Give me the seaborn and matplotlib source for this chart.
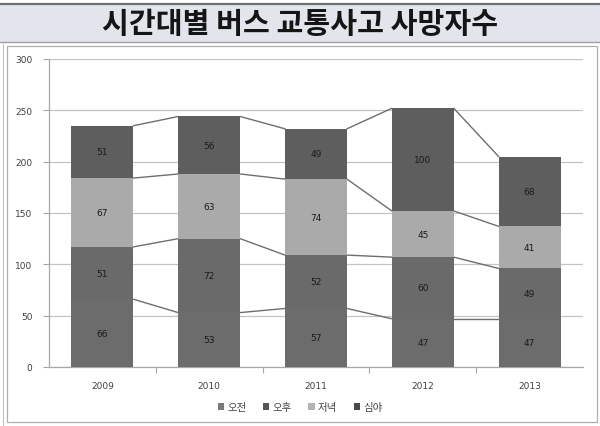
import matplotlib
matplotlib.use("Agg")
import matplotlib.pyplot as plt
from matplotlib.patches import Rectangle, Patch
from matplotlib.lines import Line2D
import seaborn as sns
import pandas as pd
import numpy as np

# Bus accident fatalities by time of day
years = ["2009", "2010", "2011", "2012", "2013"]
series_names = ["오전", "오후", "저녁", "심야"]
morning = [66, 53, 57, 47, 47]
afternoon = [51, 72, 52, 60, 49]
evening = [67, 63, 74, 45, 41]
night = [51, 56, 49, 100, 68]
y_ticks = [0, 50, 100, 150, 200, 250, 300]

colors = ["#6c6c6c", "#6a6a6a", "#aaaaaa", "#5e5e5e"]
legend_colors = ["#7a7a7a", "#555555", "#b4b4b4", "#4a4a4a"]

sns.set_theme(style="white")
plt.rcParams["font.family"] = ["Noto Sans CJK KR", "DejaVu Sans"]

W, H = 600, 427
fig = plt.figure(figsize=(W / 100, H / 100), dpi=100)
fig.patch.set_facecolor("white")

def fx(px):
    return px / W

def fy(py):
    return 1 - py / H

# title band and frames
fig.patches.append(Rectangle((fx(0), fy(43)), 1, (38) / H, transform=fig.transFigure,
                             facecolor="#e2e5ec", edgecolor="none", zorder=0))
fig.add_artist(Line2D([0, 1], [fy(5), fy(5)], color="#6f6f6f", lw=1.6, transform=fig.transFigure))
fig.add_artist(Line2D([0, 1], [fy(43), fy(43)], color="#a0a0a0", lw=1.0, transform=fig.transFigure))
fig.patches.append(Rectangle((fx(7), fy(423)), fx(590), (423 - 47) / H, transform=fig.transFigure,
                             facecolor="none", edgecolor="#b0b0b0", lw=0.9, zorder=1))
fig.add_artist(Line2D([fx(2.5), fx(2.5)], [fy(45), fy(427)], color="#c0c0c0", lw=0.8,
                      transform=fig.transFigure))
fig.text(0.5, fy(24), "시간대별 버스 교통사고 사망자수", ha="center", va="center",
         fontsize=21, color="#151515", fontweight="bold")

ax = fig.add_axes([fx(49), fy(368), fx(534), (368 - 60) / H])
ax.set_facecolor("none")

layers = np.array([morning, afternoon, evening, night], dtype=float)
cum = np.cumsum(layers, axis=0)

bar_w = 0.58
# stacked bars drawn from tallest cumulative layer down
for i in range(3, -1, -1):
    d = pd.DataFrame({"year": years, "value": cum[i]})
    sns.barplot(data=d, x="year", y="value", color=colors[i], width=bar_w,
                saturation=1, ax=ax, zorder=3, edgecolor="none")

# series lines joining the segment tops between neighbouring bars
for i in range(4):
    for j in range(len(years) - 1):
        ax.plot([j + bar_w / 2, j + 1 - bar_w / 2], [cum[i][j], cum[i][j + 1]],
                color="#6e6e6e", lw=1.0, zorder=2)

# value labels
for i in range(4):
    for j in range(len(years)):
        mid = cum[i][j] - layers[i][j] / 2
        ax.text(j, mid, f"{int(layers[i][j])}", ha="center", va="center",
                fontsize=6.5, color="#1a1a1a", zorder=4, family="DejaVu Sans")

ax.set_xlim(-0.5, len(years) - 0.5)
ax.set_ylim(0, 300)
ax.set_yticks(y_ticks)
ax.set_yticklabels([str(t) for t in y_ticks])
ax.set_xlabel("")
ax.set_ylabel("")
ax.yaxis.grid(True, color="#c4c4c4", lw=0.9, zorder=0)
ax.set_axisbelow(True)
for s in ["top", "right"]:
    ax.spines[s].set_visible(False)
ax.spines["left"].set_color("#a8a8a8")
ax.spines["bottom"].set_color("#a8a8a8")
ax.spines["left"].set_linewidth(0.9)
ax.spines["bottom"].set_linewidth(0.9)
ax.tick_params(axis="y", length=4, width=0.8, color="#a8a8a8", labelsize=6.5,
               labelcolor="#404040", pad=8, left=True)
ax.tick_params(axis="x", length=0, labelsize=6.5, labelcolor="#404040", pad=10)
ax.set_xticks(range(len(years)))
ax.set_xticks(np.arange(0.5, len(years) - 0.5, 1), minor=True)
ax.tick_params(axis="x", which="minor", length=4, width=0.8, color="#a8a8a8", bottom=True)
for lab in ax.get_xticklabels() + ax.get_yticklabels():
    lab.set_family("DejaVu Sans")

handles = [Patch(facecolor=c, edgecolor="none") for c in legend_colors]
fig.legend(handles, series_names, loc="center", bbox_to_anchor=(0.5, fy(408)), ncol=4,
           frameon=False, fontsize=7.5, handlelength=0.6, handleheight=0.6,
           handletextpad=0.3, columnspacing=1.6, labelcolor="#404040")

fig.savefig("out.png", dpi=100, facecolor="white")
